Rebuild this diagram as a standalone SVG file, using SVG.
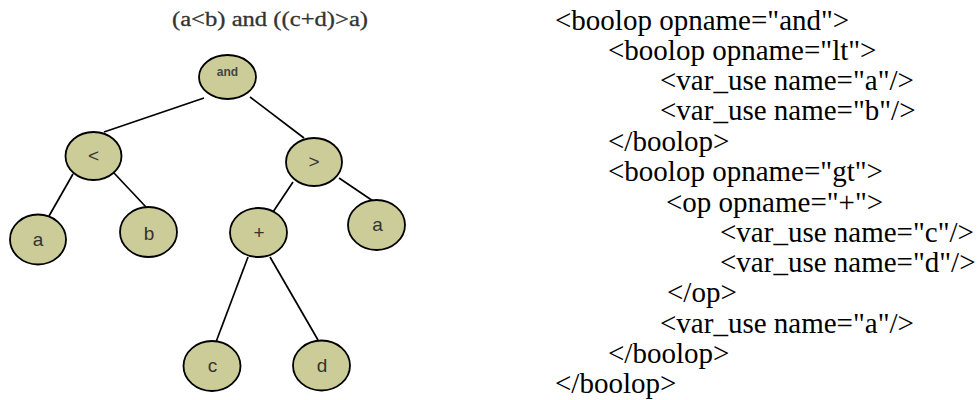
<svg xmlns="http://www.w3.org/2000/svg" width="980" height="400" viewBox="0 0 980 400">
  <style>
    .node ellipse { fill: #cccc99; stroke: #000; stroke-width: 1.8; }
    .node text { font-family: "Liberation Sans", Arial, sans-serif; font-size: 19px; fill: #333; text-anchor: middle; }
    .node text.small { font-size: 12px; font-weight: bold; fill: #444; }
    .edges line { stroke: #000; stroke-width: 1.7; }
    .title { font-family: "Liberation Serif", "Times New Roman", serif; font-size: 20px; fill: #333; stroke: #333; stroke-width: 0.3; }
    .xml text { font-family: "Liberation Serif", "Times New Roman", serif; font-size: 29px; fill: #000; }
  </style>
  <rect width="980" height="400" fill="#fff"/>

  <text class="title" x="172" y="26" textLength="196" lengthAdjust="spacingAndGlyphs">(a&lt;b) and ((c+d)&gt;a)</text>

  <!-- tree edges -->
  <g id="edges" class="edges">
    <line x1="204" y1="98" x2="104" y2="132"/>
    <line x1="250" y1="97" x2="304" y2="138"/>
    <line x1="73" y1="174" x2="49" y2="216"/>
    <line x1="114" y1="173" x2="146" y2="207"/>
    <line x1="293" y1="182" x2="273" y2="212"/>
    <line x1="339" y1="178" x2="373" y2="201"/>
    <line x1="248" y1="257" x2="216" y2="342"/>
    <line x1="270" y1="257" x2="318" y2="340"/>
  </g>

  <!-- tree nodes -->
  <g id="n-and" class="node">
    <ellipse cx="227.5" cy="77" rx="28.5" ry="22"/>
    <text class="small" x="227.5" y="76">and</text>
  </g>
  <g id="n-lt" class="node">
    <ellipse cx="93.5" cy="156" rx="28" ry="24"/>
    <text x="93.5" y="162">&lt;</text>
  </g>
  <g id="n-gt" class="node">
    <ellipse cx="314" cy="162" rx="28" ry="24"/>
    <text x="314" y="168">&gt;</text>
  </g>
  <g id="n-a1" class="node">
    <ellipse cx="38" cy="239.5" rx="28" ry="25"/>
    <text x="38" y="246">a</text>
  </g>
  <g id="n-b" class="node">
    <ellipse cx="148.5" cy="232" rx="28.5" ry="25"/>
    <text x="149" y="240">b</text>
  </g>
  <g id="n-plus" class="node">
    <ellipse cx="258.5" cy="232.5" rx="28.5" ry="24.5"/>
    <text x="259" y="239">+</text>
  </g>
  <g id="n-a2" class="node">
    <ellipse cx="376.5" cy="225" rx="28.5" ry="25"/>
    <text x="377.5" y="231">a</text>
  </g>
  <g id="n-c" class="node">
    <ellipse cx="212" cy="366" rx="28.5" ry="25"/>
    <text x="212.5" y="372">c</text>
  </g>
  <g id="n-d" class="node">
    <ellipse cx="321.5" cy="365.5" rx="28.5" ry="25"/>
    <text x="322" y="372">d</text>
  </g>

  <!-- XML listing -->
  <g id="xml" class="xml">
    <text x="555" y="30">&lt;boolop opname="and"&gt;</text>
    <text x="608" y="60">&lt;boolop opname="lt"&gt;</text>
    <text x="660" y="90">&lt;var_use name="a"/&gt;</text>
    <text x="660" y="120">&lt;var_use name="b"/&gt;</text>
    <text x="608" y="151">&lt;/boolop&gt;</text>
    <text x="608" y="181">&lt;boolop opname="gt"&gt;</text>
    <text x="666" y="212">&lt;op opname="+"&gt;</text>
    <text x="720" y="242">&lt;var_use name="c"/&gt;</text>
    <text x="720" y="272">&lt;var_use name="d"/&gt;</text>
    <text x="667" y="302">&lt;/op&gt;</text>
    <text x="660" y="333">&lt;var_use name="a"/&gt;</text>
    <text x="608" y="363">&lt;/boolop&gt;</text>
    <text x="555" y="393">&lt;/boolop&gt;</text>
  </g>
</svg>
